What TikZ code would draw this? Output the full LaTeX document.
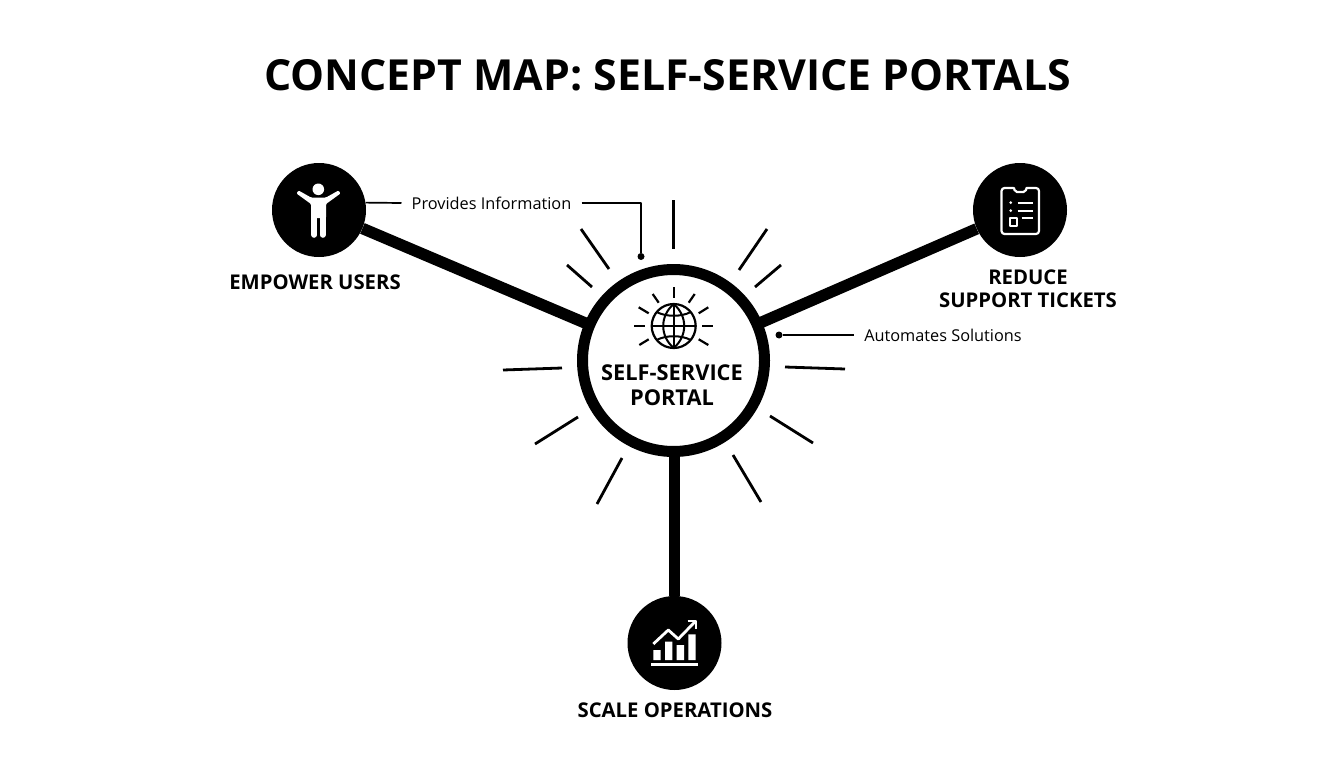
\documentclass[tikz,border=0pt]{standalone}
\usepackage{fontspec}
\setmainfont{Open Sans}
\begin{document}
\begin{tikzpicture}[x=1pt,y=-1pt,line join=round,
  hubring/.style={circle,draw=black,fill=white,line width=11pt,minimum size=182pt,inner sep=0pt},
  goal/.style={circle,fill=black,minimum size=94pt,inner sep=0pt},
  spoke/.style={line width=11.5pt,black},
  ray/.style={line width=2.8pt,black},
  smallray/.style={line width=2.2pt,black},
  lead/.style={line width=1.7pt,black},
  leaddot/.style={circle,fill=black,minimum size=7pt,inner sep=0pt},
  ttl/.style={font=\fontsize{42.8}{50}\selectfont\bfseries,inner sep=0pt},
  lab/.style={font=\fontsize{20.3}{23.5}\selectfont\bfseries,align=center,inner sep=0pt},
  hublab/.style={font=\fontsize{21.8}{25}\selectfont\bfseries,align=center,inner sep=0pt},
  note/.style={font=\fontsize{16.3}{20}\selectfont,inner sep=0pt},
  ico/.style={white,line width=2.2pt,line cap=round}]
\useasboundingbox (0,0) rectangle (1344,768);
\fill[white] (0,0) rectangle (1344,768);
\node[ttl] (title) at (667.5,75) {CONCEPT MAP: SELF-SERVICE PORTALS};

% goal and hub nodes
\node[goal] (users) at (319,210) {};
\node[goal] (tickets) at (1020,210) {};
\node[goal] (ops) at (674.5,643) {};
\coordinate (hubc) at (673.5,360.5);
\draw[spoke] (users) -- (hubc);
\draw[spoke] (tickets) -- (hubc);
\draw[spoke] (ops) -- (ops |- hubc);
\node[hubring] (hub) at (hubc) {};

% rays
\draw[ray] (673.5,200) -- (673.5,249);
\draw[ray] (581,229) -- (609,269);
\draw[ray] (567,265) -- (592,287);
\draw[ray] (767,229) -- (739,270);
\draw[ray] (781,265) -- (755,287);
\draw[ray] (503,370) -- (562,368);
\draw[ray] (785,367) -- (845,369);
\draw[ray] (535,444) -- (578,417);
\draw[ray] (770,416) -- (813,443);
\draw[ray] (622,458) -- (597,504);
\draw[ray] (733,455) -- (761,502);

% labels
\node[lab] (l1) at (315,282) {EMPOWER USERS};
\node[lab] (l2) at (1028,288.5) {REDUCE\\SUPPORT TICKETS};
\node[lab] (l3) at (675,710) {SCALE OPERATIONS};
\node[hublab] (l0) at (672,385.5) {SELF-SERVICE\\PORTAL};

% annotations
\node[note] (prov) at (491.5,203) {Provides Information};
\node[note] (auto) at (943,335) {Automates Solutions};
\node[leaddot] (d1) at (641,256.5) {};
\node[leaddot] (d2) at (779,335) {};
\draw[lead] (users.9) -- ([xshift=-10pt]prov.west);
\draw[lead] ([xshift=10pt]prov.east) -| (d1);
\draw[lead] (d2) -- ([xshift=-10pt]auto.west);

% globe icon
\begin{scope}[shift={(673.7,326)}]
  \draw[line width=2.2pt] (0,0) circle (22);
  \draw[line width=2pt] (0,-22) -- (0,22) (-22,0) -- (22,0);
  \draw[line width=2pt] (0,-22) .. controls (-14,-10) and (-14,10) .. (0,22);
  \draw[line width=2pt] (0,-22) .. controls (14,-10) and (14,10) .. (0,22);
  \draw[line width=2pt] (-17,-14) .. controls (-8,-9) and (8,-9) .. (17,-14);
  \draw[line width=2pt] (-17,14) .. controls (-8,9) and (8,9) .. (17,14);
\end{scope}
\draw[smallray] (673.7,287) -- (673.7,298);
\draw[smallray] (652.7,294) -- (658.7,302.7);
\draw[smallray] (694.7,294) -- (688.7,302.7);
\draw[smallray] (638.7,307.3) -- (648.7,313.3);
\draw[smallray] (708.3,307.3) -- (698.7,313.3);
\draw[smallray] (634,326) -- (645.3,326);
\draw[smallray] (702,326) -- (713.3,326);
\draw[smallray] (639.3,345) -- (648.7,339.3);
\draw[smallray] (708.3,345) -- (698.7,339.3);

% person icon
\fill[white] (318.3,189.3) circle (5.8);
\fill[white,rounded corners=1pt] (296.5,193.5) -- (298.5,190.5) -- (311,197.5) -- (326,197.5) -- (338.5,190.5) -- (340.5,193.5) -- (326,204) -- (326,218) -- (311,218) -- (311,204) -- cycle;
\draw[white,line width=5.6pt,line cap=round] (314.2,216) -- (314.2,235) (322.8,216) -- (322.8,235);

% clipboard icon
\draw[ico,rounded corners=3pt] (1013.3,188) -- (1001.5,188) -- (1001.5,234) -- (1039,234) -- (1039,188) -- (1026.7,188);
\draw[ico,rounded corners=2pt] (1014,188) -- (1015,192) -- (1025.5,192) -- (1026.5,188);
\fill[white] (1010.7,202.7) circle (1.5) (1010.7,210.7) circle (1.5);
\draw[ico,line cap=butt] (1017.7,202.7) -- (1033.3,202.7) (1017.7,210.7) -- (1033.3,210.7) (1021.7,218.3) -- (1033.3,218.3);
\draw[white,line width=2pt] (1009.5,218.3) rectangle (1017.3,226);

% chart icon
\fill[white] (653.3,650) rectangle (660.7,660) (665,641.7) rectangle (672.3,660) (676.7,645) rectangle (684,660) (688.3,634.3) rectangle (695.7,660);
\draw[white,line width=3pt] (651,664.7) -- (698.3,664.7);
\draw[white,line width=2.8pt] (653.3,644) -- (668.3,630) -- (678.3,639) -- (695,621.7);
\draw[white,line width=2.8pt] (687.7,621) -- (696,621) -- (696,629.3);
\end{tikzpicture}
\end{document}
